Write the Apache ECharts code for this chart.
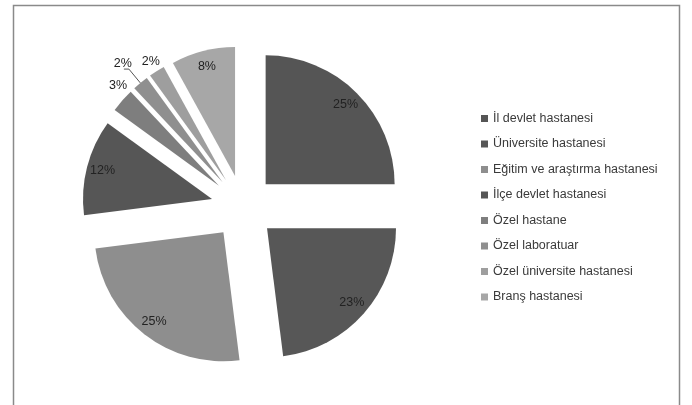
<!DOCTYPE html>
<html>
<head>
<meta charset="utf-8">
<script src="https://cdn.jsdelivr.net/npm/echarts@6/dist/echarts.min.js"></script>
<style>
  html, body { margin: 0; padding: 0; background: #ffffff; }
  #chart { width: 692px; height: 405px; }
</style>
</head>
<body>
<div id="chart"></div>
<script>
// Hospital types and their share (%)
var categories = [
  'İl devlet hastanesi',
  'Üniversite hastanesi',
  'Eğitim ve araştırma hastanesi',
  'İlçe devlet hastanesi',
  'Özel hastane',
  'Özel laboratuar',
  'Özel üniversite hastanesi',
  'Branş hastanesi'
];
var shares = [25, 23, 25, 12, 3, 2, 2, 8];
var sliceColors = ['#555555', '#575757', '#8e8e8e', '#565656', '#7e7e7e', '#8f8f8f', '#9e9e9e', '#a7a7a7'];

// where each percentage label sits: inner band, outer band, or outside with a leader line
var labelPlace = ['in', 'in', 'in', 'in', 'out', 'line', 'out', 'in'];

var CENTER = [243, 207];
var R = 129;
var OFFSET = 32;
var FONT = 'Liberation Sans, Arial, sans-serif';

function pct(v) { return v + '%'; }

var labelStyle = { color: '#222222', fontSize: 12.5, fontFamily: FONT };

var mainData = categories.map(function (name, i) {
  var item = {
    name: name,
    value: shares[i],
    selected: true,
    itemStyle: { color: sliceColors[i] },
    label: { show: false },
    labelLine: { show: false }
  };
  if (labelPlace[i] === 'line') {
    item.label = Object.assign({ show: true, position: 'outside', formatter: pct(shares[i]),
                                 distanceToLabelLine: 2 }, labelStyle);
    item.labelLine = { show: true, length: 18, length2: 5, lineStyle: { color: '#555555', width: 1 } };
  }
  return item;
});

function ringData(place) {
  return categories.map(function (name, i) {
    return {
      name: name,
      value: shares[i],
      selected: true,
      itemStyle: { color: 'rgba(0,0,0,0)' },
      label: { show: labelPlace[i] === place, formatter: pct(shares[i]) }
    };
  });
}

function labelRing(radius, place, layout) {
  var s = {
    type: 'pie',
    center: CENTER,
    radius: radius,
    startAngle: 90,
    clockwise: true,
    selectedMode: 'multiple',
    selectedOffset: OFFSET,
    silent: true,
    legendHoverLink: false,
    emphasis: { disabled: true },
    select: { itemStyle: { color: 'rgba(0,0,0,0)' } },
    avoidLabelOverlap: false,
    label: Object.assign({ position: 'inside' }, labelStyle),
    labelLine: { show: false },
    data: ringData(place)
  };
  if (layout) s.labelLayout = layout;
  return s;
}

var chart = echarts.init(document.getElementById('chart'), null, { renderer: 'canvas' });

chart.setOption({
  animation: false,
  backgroundColor: '#ffffff',
  color: sliceColors,
  legend: {
    orient: 'vertical',
    left: 476,
    top: 107,
    icon: 'rect',
    itemWidth: 7,
    itemHeight: 7,
    itemGap: 12.5,
    selectedMode: false,
    textStyle: { color: '#3a3a3a', fontSize: 12.5, fontFamily: FONT },
    data: categories
  },
  graphic: [{
    type: 'rect',
    silent: true,
    shape: { x: 13.5, y: 5.5, width: 666, height: 430 },
    style: { fill: 'none', stroke: '#8a8a8a', lineWidth: 1.5 }
  }],
  series: [
    {
      type: 'pie',
      center: CENTER,
      radius: R,
      startAngle: 90,
      clockwise: true,
      selectedMode: 'multiple',
      selectedOffset: OFFSET,
      avoidLabelOverlap: false,
      emphasis: { disabled: true },
      select: { itemStyle: { borderWidth: 0 } },
      itemStyle: { borderWidth: 0 },
      // nudge the leader-line label up and right so it clears the neighbouring "3%"
      labelLayout: function (params) {
        if (params.dataIndex === 5) return { dx: 10, dy: -6 };
      },
      data: mainData
    },
    labelRing([90, 130], 'in'),
    labelRing([124, 150], 'out', function (params) {
      if (params.dataIndex === 4) return { dx: 4, dy: -8 };
    })
  ]
});
</script>
</body>
</html>
